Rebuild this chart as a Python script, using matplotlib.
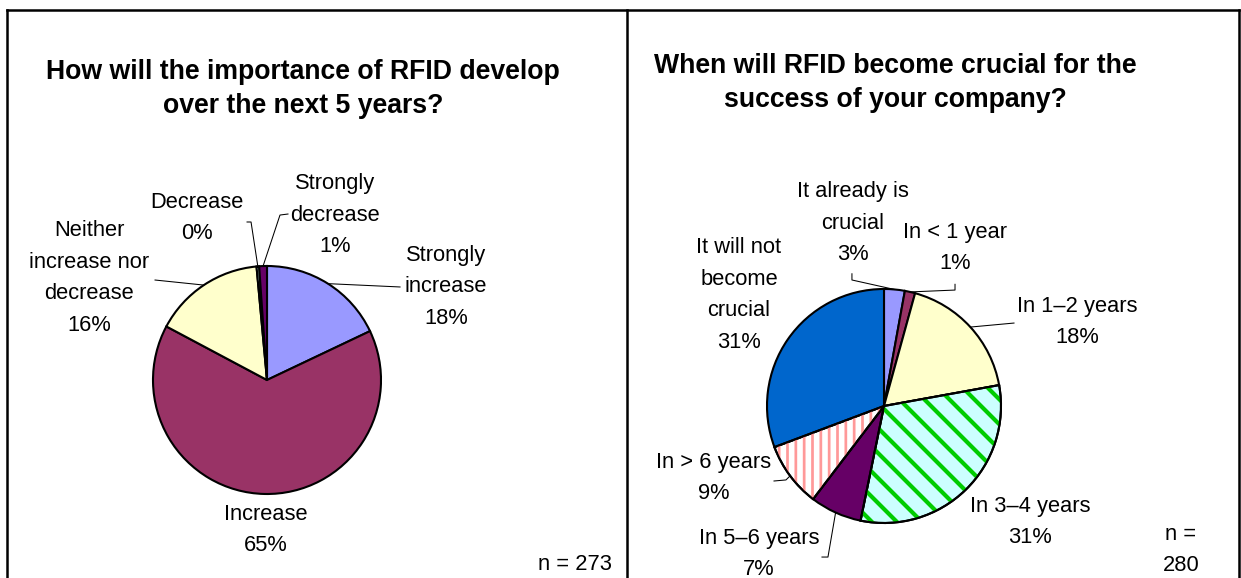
import numpy as np
import matplotlib.pyplot as plt
from matplotlib.patches import Wedge

plt.rcParams['font.family'] = ['Liberation Sans', 'DejaVu Sans']

W, H, DPI = 1241, 578, 150

# left chart: counts of answers, n = 273
left_title = ['How will the importance of RFID develop', 'over the next 5 years?']
left_labels = ['Strongly\nincrease', 'Increase', 'Neither\nincrease nor\ndecrease',
               'Decrease', 'Strongly\ndecrease']
left_counts = [49, 177, 43, 1, 3]
left_colors = ['#9999FF', '#993366', '#FFFFCC', '#CCFFFF', '#660066']

# right chart: counts of answers, n = 280
right_title = ['When will RFID become crucial for the', 'success of your company?']
right_labels = ['It already is\ncrucial', 'In < 1 year', 'In 1–2 years', 'In 3–4 years',
                'In 5–6 years', 'In > 6 years', 'It will not\nbecome\ncrucial']
right_counts = [8, 4, 50, 87, 20, 25, 86]
right_colors = ['#9999FF', '#993366', '#FFFFCC', '#CCFFFF', '#660066', '#FFFFFF', '#0066CC']
right_hatch = [None, None, None, '\\\\', None, '|||', None]
right_hatch_color = [None, None, None, '#00CC00', None, '#FF9999', None]
right_hatch_lw = [0, 0, 0, 2.0, 0, 1.3, 0]

# label layout, in pie radius units from the centre
left_text_pos = [(1.570, 0.816), (-0.009, -1.316), (-1.561, 0.895), (-0.614, 1.421), (0.596, 1.447)]
left_leaders = [[(1.167, 0.816)], None, [(-0.982, 0.877)],
                [(-0.140, 1.386), (-0.175, 1.386)], [(0.114, 1.447), (0.184, 1.456)]]
right_text_pos = [(-0.265, 1.564), (0.607, 1.350), (1.650, 0.718), (1.248, -0.991),
                  (-1.068, -1.265), (-1.453, -0.615), (-1.239, 0.949)]
right_leaders = [[(-0.274, 1.077), (-0.274, 1.13)], [(0.607, 0.991), (0.607, 1.04)],
                 [(1.111, 0.709)], None, [(-0.479, -1.291), (-0.530, -1.291)],
                 [(-0.838, -0.632), (-0.94, -0.641)], None]

LABEL_SIZE = 10.5
LINE_SP = 1.68

fig = plt.figure(figsize=(W / DPI, H / DPI), dpi=DPI)


def pie_axes(box, cx, cy, r):
    l, t, rr, b = box
    ax = fig.add_axes([l / W, 1 - b / H, (rr - l) / W, (b - t) / H])
    return ax, ((l - cx) / r, (rr - cx) / r), ((cy - b) / r, (cy - t) / r)


def draw_pie(ax, xlim, ylim, counts, colors, labels, text_pos, leaders,
             hatches=None, hatch_colors=None, hatch_lw=None):
    n = sum(counts)
    wedges, _ = ax.pie(counts, colors=colors, startangle=90, counterclock=False,
                       wedgeprops=dict(edgecolor='black', linewidth=1.0))
    for i, w in enumerate(wedges):
        if hatches and hatches[i]:
            with plt.rc_context({'hatch.linewidth': hatch_lw[i]}):
                hw = Wedge(w.center, w.r, w.theta1, w.theta2, facecolor='none',
                           edgecolor=hatch_colors[i], linewidth=0, hatch=hatches[i])
            ax.add_patch(hw)
            ax.add_patch(Wedge(w.center, w.r, w.theta1, w.theta2, facecolor='none',
                               edgecolor='black', linewidth=1.0))
        pct = '%d%%' % round(100 * counts[i] / n)
        tx, ty = text_pos[i]
        ax.text(tx, ty, labels[i] + '\n' + pct, ha='center', va='center',
                fontsize=LABEL_SIZE, linespacing=LINE_SP)
        if leaders[i]:
            mid = np.deg2rad((w.theta1 + w.theta2) / 2)
            xs = [np.cos(mid)] + [p[0] for p in leaders[i]]
            ys = [np.sin(mid)] + [p[1] for p in leaders[i]]
            ax.plot(xs, ys, color='black', lw=0.5)
    ax.set_xlim(*xlim)
    ax.set_ylim(*ylim)
    ax.set_aspect('auto')
    ax.axis('off')
    return n


ax1, xl, yl = pie_axes((7, 10, 627, 578), 267, 380, 114)
n1 = draw_pie(ax1, xl, yl, left_counts, left_colors, left_labels, left_text_pos, left_leaders)

ax2, xl, yl = pie_axes((627, 10, 1239, 578), 884, 406, 117)
n2 = draw_pie(ax2, xl, yl, right_counts, right_colors, right_labels, right_text_pos,
              right_leaders, right_hatch, right_hatch_color, right_hatch_lw)

# titles
for i, line in enumerate(left_title):
    fig.text(303 / W, 1 - (79 + 34 * i) / H, line, ha='center', va='baseline',
             fontsize=12.8, fontweight='bold')
for i, line in enumerate(right_title):
    fig.text(895 / W, 1 - (73 + 34 * i) / H, line, ha='center', va='baseline',
             fontsize=12.8, fontweight='bold')

fig.text(612 / W, 1 - 565 / H, 'n = %d' % n1, ha='right', va='center', fontsize=LABEL_SIZE)
fig.text(1181 / W, 1 - 550 / H, 'n =\n%d' % n2, ha='center', va='center',
         fontsize=LABEL_SIZE, linespacing=1.6)

# panel frame
for xs, ys in [((7, 1239), (10, 10)), ((7, 7), (10, 578)), ((627, 627), (10, 578)),
               ((1239, 1239), (10, 578))]:
    fig.add_artist(plt.Line2D([x / W for x in xs], [1 - y / H for y in ys],
                              transform=fig.transFigure, color='black', lw=1.2))

fig.savefig('out.png', dpi=DPI)
